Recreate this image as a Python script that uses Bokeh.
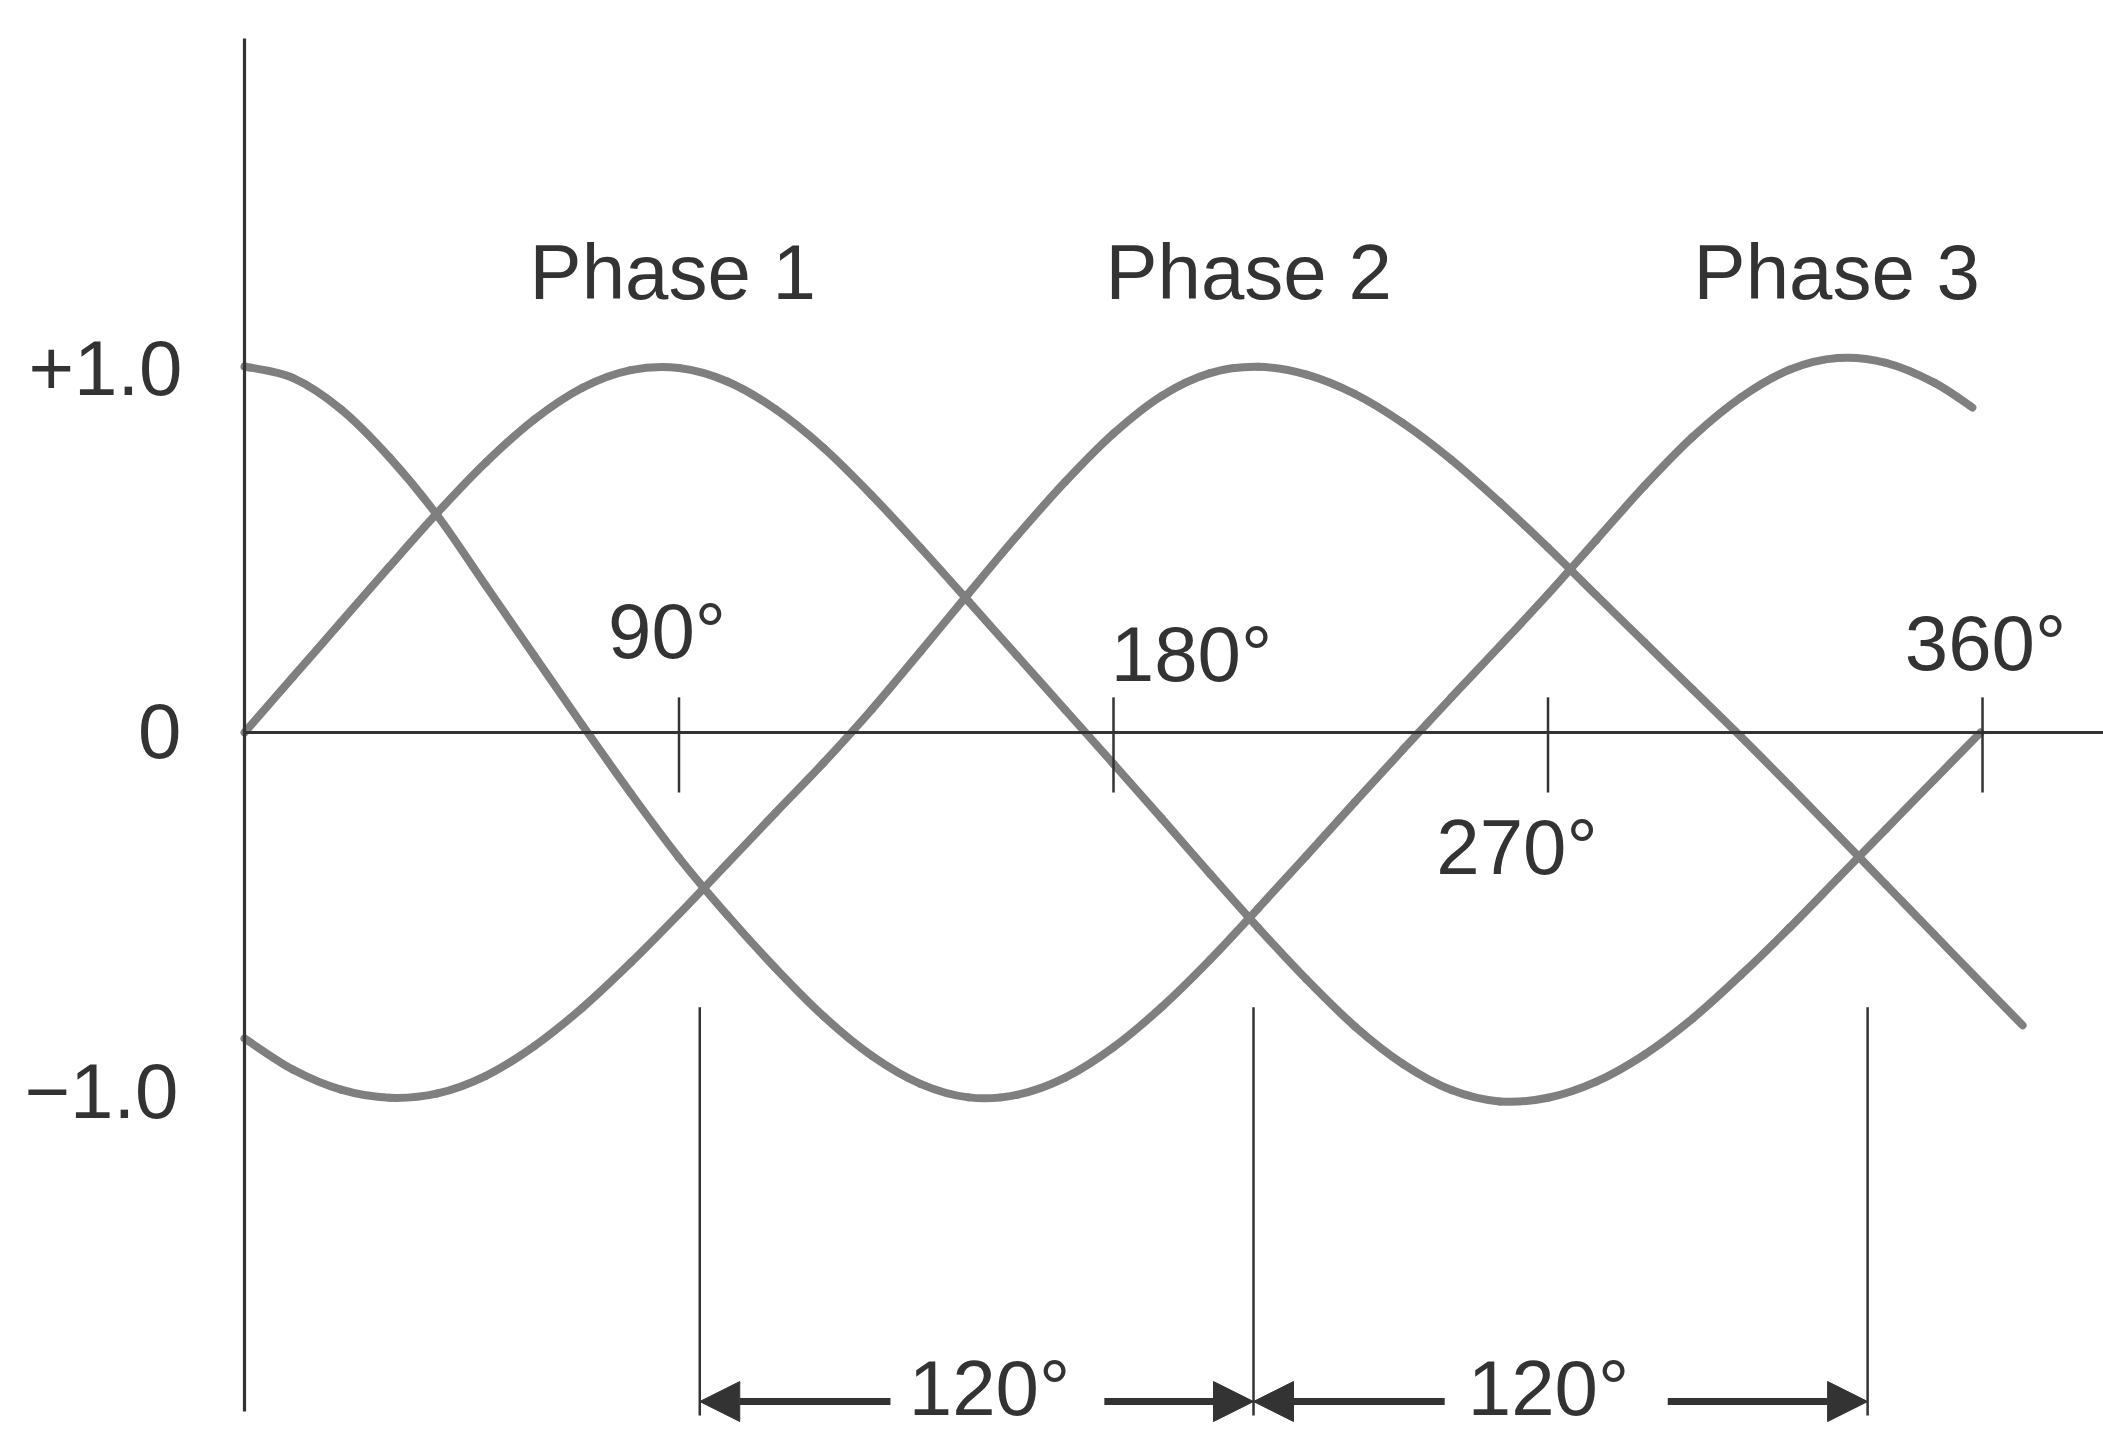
from bokeh.plotting import figure
from bokeh.models import Range1d, ColumnDataSource, Arrow, NormalHead
from bokeh.core.properties import value
from bokeh.embed import file_html
from bokeh.resources import INLINE

# ---------------- data ----------------
# angle (degrees) at which each curve was read
angle_grid = [0, 10, 20, 30, 40, 50, 60, 70, 80, 90, 100, 110, 120, 130, 140, 150, 160, 170,
              180, 190, 200, 210, 220, 230, 240, 250, 260, 270, 280, 290, 300, 310, 320, 330, 340, 350]

phase1_x = angle_grid + [359.6]
phase1_y = [0.000, 0.151, 0.302, 0.453, 0.601, 0.738, 0.855, 0.942, 0.990, 0.996,
            0.959, 0.883, 0.777, 0.647, 0.505, 0.358, 0.210, 0.062, -0.086, -0.235,
            -0.386, -0.534, -0.675, -0.803, -0.906, -0.977, -1.008, -0.998, -0.954, -0.880,
            -0.781, -0.662, -0.534, -0.399, -0.264, -0.129, 0.000]

phase2_x = angle_grid + [360, 368.3]
phase2_y = [-0.836, -0.921, -0.976, -0.998, -0.986, -0.938, -0.857, -0.752, -0.629, -0.496,
            -0.358, -0.219, -0.082, 0.064, 0.221, 0.380, 0.537, 0.685, 0.817, 0.920,
            0.982, 0.999, 0.978, 0.925, 0.845, 0.745, 0.629, 0.505, 0.375, 0.246,
            0.117, -0.012, -0.145, -0.280, -0.416, -0.552, -0.688, -0.800]

phase3_x = angle_grid + [357.9]
phase3_y = [1.000, 0.969, 0.883, 0.752, 0.592, 0.401, 0.210, 0.020, -0.166, -0.342,
            -0.499, -0.644, -0.776, -0.884, -0.960, -0.997, -0.990, -0.943, -0.860, -0.750,
            -0.621, -0.480, -0.336, -0.190, -0.046, 0.096, 0.236, 0.378, 0.526, 0.674,
            0.808, 0.916, 0.991, 1.023, 1.010, 0.956, 0.888]

ticks_deg = [90, 180, 270, 360]
tick_text = ["90°", "180°", "270°", "360°"]

level_values = [1.0, 0.0, -1.0]
level_text = ["+1.0", "0", "−1.0"]

phase_names = ["Phase 1", "Phase 2", "Phase 3"]
phase_peak_deg = [88.7, 208.0, 329.8]

marker_deg = [94.3, 209.0, 336.2]
gap_text = ["120°", "120°"]
gap_center_deg = [154.3, 270.1]

# ---------------- styling / layout ----------------
W, H = 2103, 1432
ink = "#333333"
curve_color = "#7f7f7f"
font = value("Liberation Sans")
fs = "78px"
TXT_SHIFT = -29  # screen px correction of the text anchor

p = figure(width=W, height=H,
           x_range=Range1d(-50.541, 385.06), y_range=Range1d(-1.9126, 2.0),
           output_backend="svg", toolbar_location=None, min_border=0,
           x_axis_location=None, y_axis_location=None, title=None)
p.grid.visible = False
p.outline_line_color = None
p.background_fill_color = "white"
p.border_fill_color = "white"


def smooth(xs, ys):
    """Cubic Bezier pieces through the read points (Catmull-Rom tangents)."""
    n = len(xs)
    d = dict(x0=[], y0=[], x1=[], y1=[], cx0=[], cy0=[], cx1=[], cy1=[])
    for i in range(n - 1):
        a = max(i - 1, 0)
        b = min(i + 2, n - 1)
        d["x0"].append(xs[i]); d["y0"].append(ys[i])
        d["x1"].append(xs[i + 1]); d["y1"].append(ys[i + 1])
        d["cx0"].append(xs[i] + (xs[i + 1] - xs[a]) / 6.0)
        d["cy0"].append(ys[i] + (ys[i + 1] - ys[a]) / 6.0)
        d["cx1"].append(xs[i + 1] - (xs[b] - xs[i]) / 6.0)
        d["cy1"].append(ys[i + 1] - (ys[b] - ys[i]) / 6.0)
    return ColumnDataSource(d)


# curves
for xs, ys in [(phase1_x, phase1_y), (phase2_x, phase2_y), (phase3_x, phase3_y)]:
    p.bezier(x0="x0", y0="y0", x1="x1", y1="y1", cx0="cx0", cy0="cy0", cx1="cx1", cy1="cy1",
             source=smooth(xs, ys), line_color=curve_color, line_width=8, line_cap="round")

# axes drawn as plain lines
p.segment(x0=[0], y0=[-1.855], x1=[0], y1=[1.896], line_color=ink, line_width=3.2)
p.segment(x0=[0], y0=[0], x1=[385.06], y1=[0], line_color=ink, line_width=3.2)
p.segment(x0=ticks_deg, y0=[0.096] * len(ticks_deg), x1=ticks_deg, y1=[-0.164] * len(ticks_deg),
          line_color=ink, line_width=2.5)

# tick labels
p.text(x=ticks_deg, y=[0.197, 0.134, -0.391, 0.164], text=tick_text,
       x_offset=[-12, 78, -31, 3], y_offset=[TXT_SHIFT] * 4,
       text_font=font, text_font_size=fs, text_color=ink,
       text_align="center", text_baseline="alphabetic")

# level labels
p.text(x=[0] * 3, y=level_values, text=level_text,
       x_offset=[-62, -63, -66], y_offset=[31 + TXT_SHIFT, 28 + TXT_SHIFT, 22 + TXT_SHIFT],
       text_font=font, text_font_size=fs, text_color=ink,
       text_align="right", text_baseline="alphabetic")

# phase names
p.text(x=phase_peak_deg, y=[1.178] * 3, text=phase_names, y_offset=[TXT_SHIFT] * 3,
       text_font=font, text_font_size=fs, text_color=ink,
       text_align="center", text_baseline="alphabetic")

# 120 degree markers
p.segment(x0=marker_deg, y0=[-0.751] * 3, x1=marker_deg, y1=[-1.866] * 3,
          line_color=ink, line_width=2.5)

arrow_y = -1.828
src = ColumnDataSource(dict(
    x0=[gap_center_deg[0] - 20.5, gap_center_deg[0] + 23.8,
        gap_center_deg[1] - 21.5, gap_center_deg[1] + 24.7],
    x1=[marker_deg[0], marker_deg[1], marker_deg[1], marker_deg[2]],
    y0=[arrow_y] * 4, y1=[arrow_y] * 4))
p.add_layout(Arrow(end=NormalHead(size=40, fill_color=ink, line_color=ink, line_width=1),
                   source=src, x_start="x0", y_start="y0", x_end="x1", y_end="y1",
                   line_color=ink, line_width=7))

p.text(x=gap_center_deg, y=[-1.87] * 2, text=gap_text, y_offset=[TXT_SHIFT] * 2,
       text_font=font, text_font_size=fs, text_color=ink,
       text_align="center", text_baseline="alphabetic")

open("out.html", "w").write(file_html(p, INLINE))
